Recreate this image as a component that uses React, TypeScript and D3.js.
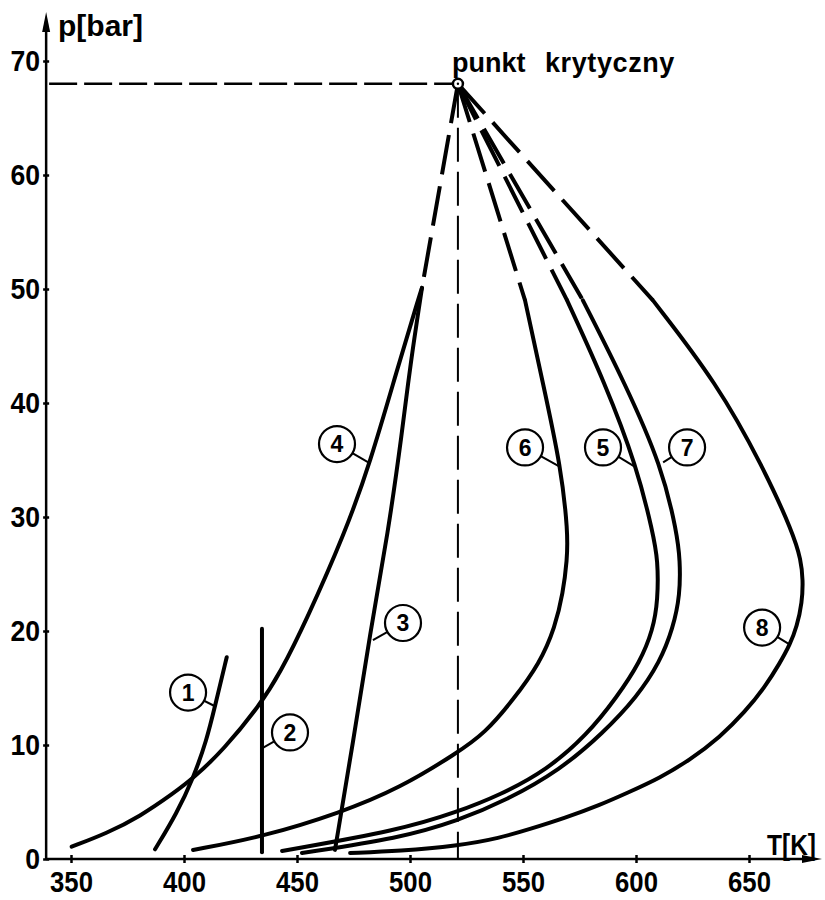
import React, { useEffect, useRef } from "react";
import * as d3 from "d3";

// T [K] and p [bar]
const xTicks = [350, 400, 450, 500, 550, 600, 650];
const yTicks = [0, 10, 20, 30, 40, 50, 60, 70];
const criticalPoint = [521.2, 68.0];

const curve1 = [[387.2, 0.85], [396.8, 4.0], [404.1, 7.1], [410, 10.4], [413.7, 13.4], [418.9, 17.7]];
const curve2 = [[434.5, 0.6], [434.5, 20.2]];
const curve3 = [[466.8, 0.8], [474.8, 10.2], [482.3, 19.8], [490.3, 28.6], [496.5, 37.4], [500, 43.2], [505.3, 50.1]];
const curve4 = [[350.3, 1.08], [365.8, 2.25], [380.5, 3.73], [395.3, 5.76], [404.1, 7.08], [417.4, 9.56], [433.6, 13.5], [442.5, 16.3], [454.3, 21.0], [471.2, 28.6], [482.3, 34.7], [494.7, 43.2], [503.5, 49], [505.3, 50.1]];
const curve5 = [[443.4, 0.7], [495.6, 2.54], [520.8, 4.12], [539.8, 5.61], [560.6, 7.81], [578.3, 10.88], [591.6, 14.21], [601.8, 17.28], [607.5, 20.09], [609.7, 22.72], [609.7, 26.23], [607.5, 28.6], [600.4, 34.4], [586.3, 41.75], [569.5, 49]];
const curve6 = [[404, 0.79], [434.5, 1.93], [469, 4.04], [495.6, 6.23], [520.8, 9.3], [533.2, 11.05], [545.6, 13.95], [557.5, 17.19], [564.2, 20.35], [567.7, 23.33], [569.5, 26.23], [569.9, 28.6], [566.8, 34.4], [558.8, 41.75], [550.9, 49]];
const curve7 = [[452.2, 0.53], [495.6, 1.84], [520.8, 3.33], [542.9, 5.18], [566.4, 7.81], [585.4, 11.05], [600.4, 14.21], [610.6, 17.28], [616.4, 20.26], [619.5, 23.16], [619.5, 26.23], [618.1, 28.6], [611.5, 34.4], [595.1, 41.75], [576.5, 49]];
const curve8 = [[473.5, 0.53], [495.6, 0.7], [520.8, 1.14], [539.8, 1.84], [553.1, 2.63], [568.6, 3.6], [584.1, 4.74], [596, 5.79], [610.6, 7.11], [623.9, 8.7], [637.2, 10.7], [648.2, 12.9], [657.1, 15.1], [663.7, 17.2], [668.1, 18.8], [671.2, 20.4], [673.5, 22.5], [673.9, 24.47], [673, 26.23], [669.5, 28.6], [656.2, 34.4], [635.8, 41.75], [607.5, 49]];

const solidCurves = [curve1, curve2, curve3, curve4, curve5, curve6, curve7, curve8];
// curves that run on (dashed) to the critical point
const dashedCurves = [curve3, curve5, curve6, curve7, curve8];

// numbered tags: circle centre and the point on the curve the leader touches
const curveTags = [
  { name: "1", at: [401.8, 14.6], anchor: [413.7, 13.4] },
  { name: "2", at: [446.9, 11.1], anchor: [434.5, 9.7] },
  { name: "3", at: [496.9, 20.7], anchor: [483.6, 19.2] },
  { name: "4", at: [467.7, 36.4], anchor: [482.3, 34.7] },
  { name: "6", at: [550.9, 36.1], anchor: [566.4, 34.4] },
  { name: "5", at: [585.4, 36.1], anchor: [599.6, 34.4] },
  { name: "7", at: [622.6, 36.1], anchor: [612, 34.8] },
  { name: "8", at: [655.8, 20.3], anchor: [668.1, 18.8] },
];

const SANS = "'Liberation Sans', Arial, sans-serif";

const App = () => {
  const svgRef = useRef(null);
  useEffect(() => {
    const svg = d3.select(svgRef.current);
    svg.selectAll("*").remove();

    const x = d3.scaleLinear().domain([350, 650]).range([71, 749]);
    const y = d3.scaleLinear().domain([0, 70]).range([859, 61]);
    const x0 = x(339);
    const y0 = y(0);

    // axes (narrow drafting digits: squeeze the glyphs with textLength)
    const xAxis = svg.append("g")
      .attr("transform", `translate(0,${y0})`)
      .call(d3.axisBottom(x).tickValues(xTicks).tickSize(4).tickPadding(8));
    xAxis.select(".domain").remove();
    xAxis.selectAll(".tick line").attr("y1", -4).attr("stroke-width", 2.5);
    xAxis.selectAll(".tick text")
      .attr("font-family", SANS).attr("font-weight", "bold")
      .attr("font-size", 29).attr("fill", "#000")
      .attr("textLength", (d) => String(d).length * 14.3)
      .attr("lengthAdjust", "spacingAndGlyphs");

    const yAxis = svg.append("g")
      .attr("transform", `translate(${x0},0)`)
      .call(d3.axisLeft(y).tickValues(yTicks).tickSize(3).tickPadding(3));
    yAxis.select(".domain").remove();
    yAxis.selectAll(".tick line").attr("x1", 3).attr("stroke-width", 2.5);
    yAxis.selectAll(".tick text")
      .attr("font-family", SANS).attr("font-weight", "bold")
      .attr("font-size", 29).attr("fill", "#000")
      .attr("textLength", (d) => String(d).length * 14.8)
      .attr("lengthAdjust", "spacingAndGlyphs");

    svg.append("line")
      .attr("x1", x0).attr("x2", 808).attr("y1", y0).attr("y2", y0)
      .attr("stroke", "#000").attr("stroke-width", 2.5);
    svg.append("path")
      .attr("d", `M822,${y0} L802,${y0 - 4} L802,${y0 + 4} Z`)
      .attr("fill", "#000");
    svg.append("line")
      .attr("x1", x0).attr("x2", x0).attr("y1", y0).attr("y2", 28)
      .attr("stroke", "#000").attr("stroke-width", 2.5);
    svg.append("path")
      .attr("d", `M${x0},12 L${x0 - 4},32 L${x0 + 4},32 Z`)
      .attr("fill", "#000");

    svg.append("text")
      .attr("x", 58).attr("y", 36)
      .attr("font-family", SANS).attr("font-weight", "bold").attr("font-size", 30)
      .text("p[bar]");
    svg.append("text")
      .attr("x", 767).attr("y", 855)
      .attr("font-family", SANS).attr("font-weight", "bold").attr("font-size", 29)
      .attr("textLength", 49).attr("lengthAdjust", "spacingAndGlyphs")
      .text("T[K]");

    // critical point guides
    const cx = x(criticalPoint[0]);
    const cy = y(criticalPoint[1]);
    svg.append("line")
      .attr("x1", x0 + 3).attr("x2", cx).attr("y1", cy).attr("y2", cy)
      .attr("stroke", "#000").attr("stroke-width", 2.5)
      .attr("stroke-dasharray", "28,7");
    svg.append("line")
      .attr("x1", cx).attr("x2", cx).attr("y1", cy).attr("y2", y0)
      .attr("stroke", "#000").attr("stroke-width", 2)
      .attr("stroke-dasharray", "34,10");

    const line = d3.line()
      .x((d) => x(d[0]))
      .y((d) => y(d[1]))
      .curve(d3.curveBasis);

    svg.append("g")
      .selectAll("path")
      .data(solidCurves)
      .join("path")
      .attr("d", (d) => line(d))
      .attr("fill", "none")
      .attr("stroke", "#000")
      .attr("stroke-width", 4)
      .attr("stroke-linecap", "round");

    svg.append("g")
      .selectAll("path")
      .data(dashedCurves)
      .join("path")
      .attr("d", (d) => d3.line()([[cx, cy], [x(d[d.length - 1][0]), y(d[d.length - 1][1])]]))
      .attr("fill", "none")
      .attr("stroke", "#000")
      .attr("stroke-width", 4)
      .attr("stroke-dasharray", "40,12");

    svg.append("circle")
      .attr("cx", cx).attr("cy", cy).attr("r", 5)
      .attr("fill", "#fff").attr("stroke", "#000").attr("stroke-width", 2.5);
    svg.append("circle")
      .attr("cx", cx).attr("cy", cy).attr("r", 1.2).attr("fill", "#000");

    svg.append("text")
      .attr("x", 452).attr("y", 72)
      .attr("font-family", SANS).attr("font-weight", "bold").attr("font-size", 27)
      .text("punkt");
    svg.append("text")
      .attr("x", 545).attr("y", 72)
      .attr("font-family", SANS).attr("font-weight", "bold").attr("font-size", 27)
      .attr("letter-spacing", 0.6)
      .text("krytyczny");

    // numbered tags
    const tags = svg.append("g").selectAll("g").data(curveTags).join("g");
    tags.append("line")
      .attr("x1", (d) => x(d.at[0])).attr("y1", (d) => y(d.at[1]))
      .attr("x2", (d) => x(d.anchor[0])).attr("y2", (d) => y(d.anchor[1]))
      .attr("stroke", "#000").attr("stroke-width", 2);
    tags.append("circle")
      .attr("cx", (d) => x(d.at[0])).attr("cy", (d) => y(d.at[1])).attr("r", 18)
      .attr("fill", "#fff").attr("stroke", "#000").attr("stroke-width", 2.2);
    tags.append("text")
      .attr("x", (d) => x(d.at[0])).attr("y", (d) => y(d.at[1]))
      .attr("dy", "0.36em")
      .attr("text-anchor", "middle")
      .attr("font-family", SANS).attr("font-weight", "bold").attr("font-size", 23)
      .text((d) => d.name);
  }, []);
  return (
    <svg
      ref={svgRef}
      width={825}
      height={900}
      style={{ position: "absolute", left: 0, top: 0, background: "#fff" }}
    ></svg>
  );
};

export default App;
